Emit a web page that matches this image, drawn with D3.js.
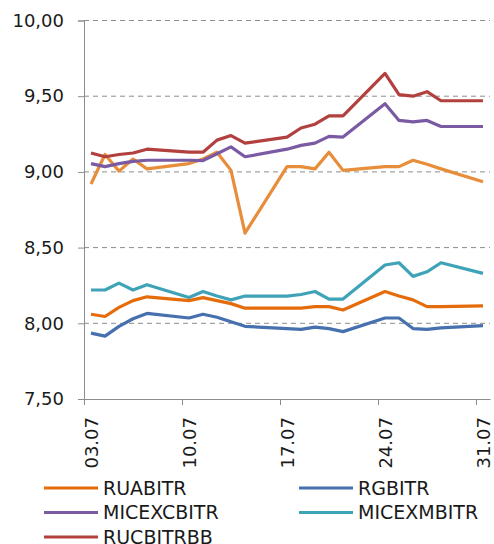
<!DOCTYPE html>
<html>
<head>
<meta charset="utf-8">
<script src="https://cdn.jsdelivr.net/npm/d3@7"></script>
<style>
  body { margin: 0; background: #fff; }
  text { font-family: "DejaVu Sans", Verdana, sans-serif; fill: #1a1a1a; }
</style>
</head>
<body>
<div id="chart"></div>
<script>
// trading days, July
var dates = ["03.07","04.07","05.07","06.07","07.07","10.07","11.07","12.07","13.07","14.07",
             "17.07","18.07","19.07","20.07","21.07","24.07","25.07","26.07","27.07","28.07","31.07"]
var tickLabels = ["03.07","10.07","17.07","24.07","31.07"]
var yTicks = [7.5, 8, 8.5, 9, 9.5, 10]

var ruabitr    = [8.06, 8.045, 8.105, 8.15, 8.175, 8.15, 8.17, 8.15, 8.13, 8.10,
                  8.10, 8.10, 8.11, 8.11, 8.088, 8.21, 8.18, 8.155, 8.11, 8.11, 8.115]
var rgbitr     = [7.935, 7.915, 7.98, 8.03, 8.065, 8.035, 8.06, 8.04, 8.01, 7.98,
                  7.965, 7.96, 7.975, 7.965, 7.945, 8.035, 8.035, 7.965, 7.96, 7.97, 7.985]
var micexcbitr = [9.055, 9.035, 9.055, 9.07, 9.077, 9.077, 9.075, 9.12, 9.165, 9.10,
                  9.15, 9.175, 9.19, 9.235, 9.23, 9.45, 9.34, 9.33, 9.34, 9.30, 9.30]
var micexmbitr = [8.22, 8.22, 8.265, 8.22, 8.255, 8.17, 8.21, 8.18, 8.155, 8.18,
                  8.18, 8.19, 8.21, 8.16, 8.16, 8.385, 8.40, 8.31, 8.34, 8.40, 8.33]
var rucbitrbb  = [9.125, 9.10, 9.115, 9.125, 9.15, 9.13, 9.13, 9.21, 9.24, 9.19,
                  9.23, 9.29, 9.315, 9.37, 9.37, 9.65, 9.51, 9.50, 9.53, 9.47, 9.47]
// sixth line, no legend entry visible
var extraLine  = [8.92, 9.115, 9.005, 9.085, 9.02, 9.055, 9.085, 9.13, 9.01, 8.595,
                  9.035, 9.035, 9.02, 9.13, 9.01, 9.035, 9.035, 9.077, 9.05, 9.02, 8.935]

var width = 494, height = 544

var series = [
  {name: "", values: extraLine, color: "#e88d3a"},
  {name: "RUABITR", values: ruabitr, color: "#e46c0a"},
  {name: "RGBITR", values: rgbitr, color: "#4670ae"},
  {name: "MICEXCBITR", values: micexcbitr, color: "#7a5ba3"},
  {name: "MICEXMBITR", values: micexmbitr, color: "#3fa3b8"},
  {name: "RUCBITRBB", values: rucbitrbb, color: "#b2403e"}
]

var svg = d3.select("#chart").append("svg")
    .attr("width", width)
    .attr("height", height)

function dayNum(s) { return +s.split(".")[0] }

var x = d3.scaleLinear().domain([2.5, 31.5]).range([84, 490])
var y = d3.scaleLinear().domain([7.5, 10]).range([399, 20.5])

// gridlines
svg.append("g")
  .selectAll("line")
  .data(yTicks.slice(1))
  .enter().append("line")
    .attr("x1", x(2.5)).attr("x2", x(31.5))
    .attr("y1", function(d){ return y(d) }).attr("y2", function(d){ return y(d) })
    .attr("stroke", "#8c8c8c")
    .attr("stroke-width", 1)
    .attr("stroke-dasharray", "5,4")

// y axis
var yAxis = svg.append("g")
  .attr("transform", "translate(" + x(2.5) + ",0)")
  .call(d3.axisLeft(y).tickValues(yTicks).tickSize(6).tickPadding(14)
        .tickFormat(function(d){ return d3.format(".2f")(d).replace(".", ",") }))
yAxis.selectAll("text").style("font-size", "18px")
yAxis.selectAll("line, path").attr("stroke", "#8c8c8c")

// x axis: ticks on week boundaries, labels at day centres
var xAxis = svg.append("g")
  .attr("transform", "translate(0," + y(7.5) + ")")
  .call(d3.axisBottom(x).tickValues(tickLabels.map(function(d){ return dayNum(d) - 0.5 }))
        .tickSize(6).tickSizeOuter(0).tickFormat(""))
xAxis.selectAll("line, path").attr("stroke", "#8c8c8c")

svg.append("g")
  .selectAll("text")
  .data(tickLabels)
  .enter().append("text")
    .attr("transform", function(d){ return "translate(" + (x(dayNum(d)) + 7) + "," + 417 + ") rotate(-90)" })
    .attr("text-anchor", "end")
    .style("font-size", "18px")
    .text(function(d){ return d })

// lines
var line = d3.line()
  .x(function(d, i){ return x(dayNum(dates[i])) })
  .y(function(d){ return y(d) })

svg.append("g")
  .selectAll("path")
  .data(series)
  .enter().append("path")
    .attr("d", function(s){ return line(s.values) })
    .attr("fill", "none")
    .attr("stroke", function(s){ return s.color })
    .attr("stroke-width", 3.2)
    .attr("stroke-linejoin", "round")

// legend
var legendItems = series.filter(function(s){ return s.name != "" })
var legend = svg.append("g")
  .selectAll("g")
  .data(legendItems)
  .enter().append("g")
    .attr("transform", function(d, i){
      return "translate(" + (i % 2 == 0 ? 44 : 299) + "," + (488 + Math.floor(i / 2) * 24.5) + ")"
    })
legend.append("line")
  .attr("x1", 0).attr("x2", 54)
  .attr("stroke", function(d){ return d.color })
  .attr("stroke-width", 3)
legend.append("text")
  .attr("x", 59)
  .attr("dy", "0.36em")
  .style("font-size", "19px")
  .text(function(d){ return d.name })
</script>
</body>
</html>
